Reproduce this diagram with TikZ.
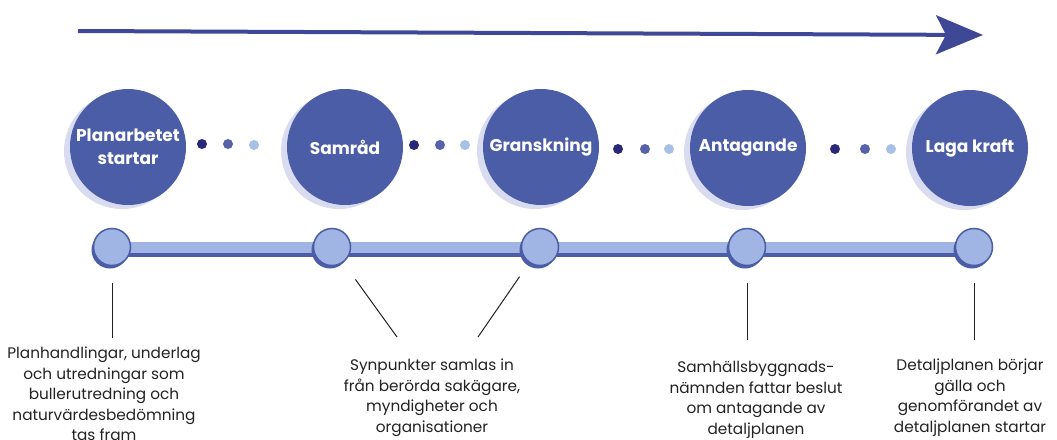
\documentclass[tikz,border=0pt]{standalone}
\usepackage{fontspec}
\setmainfont{Poppins}
\usetikzlibrary{arrows.meta,shadows,backgrounds}
\definecolor{stagefill}{HTML}{4A5DA6}
\definecolor{halo}{HTML}{D9DCF0}
\definecolor{barlight}{HTML}{A0B5E3}
\definecolor{arrowblue}{HTML}{3E4896}
\definecolor{dotdark}{HTML}{2A2878}
\definecolor{dotmid}{HTML}{5762AB}
\definecolor{dotlight}{HTML}{A7C0E6}
\definecolor{notegray}{HTML}{222222}
\begin{document}
\begin{tikzpicture}[x=1pt,y=-1pt,
    stage/.style={circle,fill=stagefill,minimum size=116pt,inner sep=0pt,
      text=white,align=center,font=\fontsize{17}{23}\selectfont\bfseries,
      drop shadow={shadow xshift=-6pt,shadow yshift=-4pt,fill=halo,opacity=1}},
    dot/.style={circle,minimum size=10pt,inner sep=0pt},
    milestone/.style={circle,fill=barlight,draw=stagefill,line width=1.5pt,
      minimum size=37pt,inner sep=0pt,
      drop shadow={shadow xshift=-2pt,shadow yshift=-3pt,fill=stagefill,opacity=1}},
    note/.style={anchor=north,inner sep=0pt,align=center,text=notegray,
      font=\fontsize{15.3}{20.5}\selectfont},
    lead/.style={draw=notegray,line width=1pt},
    flow/.style={draw=arrowblue,line width=4pt,
      -{Stealth[length=47pt,width=39pt,inset=10pt]}}]
  \useasboundingbox (0,0) rectangle (1057,439);
  % direction of the process
  \coordinate (start) at (78,31);
  \coordinate (end) at (983,35);
  \draw[flow] (start) -- (end);
  % stages
  \draw
    (128,147) node[stage] (p1) {Planarbetet\\startar}
    (345,147) node[stage] (p2) {Samråd}
    (541,147) node[stage] (p3) {Granskning}
    (748,148) node[stage] (p4) {Antagande}
    (970,148) node[stage] (p5) {Laga kraft};
  \draw
    (202,144) node[dot,fill=dotdark] (d11) {}
    (228,144) node[dot,fill=dotmid] (d12) {}
    (254,145) node[dot,fill=dotlight] (d13) {}
    (414,145) node[dot,fill=dotdark] (d21) {}
    (440,145) node[dot,fill=dotmid] (d22) {}
    (465,145) node[dot,fill=dotlight] (d23) {}
    (618,149) node[dot,fill=dotdark] (d31) {}
    (645,149) node[dot,fill=dotmid] (d32) {}
    (669,149) node[dot,fill=dotlight] (d33) {}
    (835,149) node[dot,fill=dotdark] (d41) {}
    (865,149) node[dot,fill=dotmid] (d42) {}
    (891,149) node[dot,fill=dotlight] (d43) {};
  % timeline
  \draw
    (112,247) node[milestone] (t1) {}
    (332,247) node[milestone] (t2) {}
    (540,247) node[milestone] (t3) {}
    (747,247) node[milestone] (t4) {}
    (974,247) node[milestone] (t5) {};
  \begin{scope}[on background layer]
    \draw[stagefill,line width=12pt] ([yshift=-4pt]t1.center) -- ([yshift=-4pt]t5.center);
    \draw[barlight,line width=11pt] (t1.center) -- (t5.center);
  \end{scope}
  % notes
  \draw
    (104,347) node[note] (l1) {Planhandlingar, underlag\\och utredningar som\\bullerutredning och\\naturvärdesbedömning\\tas fram}
    (432,359) node[note] (l2) {Synpunkter samlas in\\från berörda sakägare,\\myndigheter och\\organisationer}
    (756,361) node[note] (l3) {Samhällsbyggnads-\\nämnden fattar beslut\\om antagande av\\detaljplanen}
    (970,359) node[note] (l4) {Detaljplanen börjar\\gälla och\\genomförandet av\\detaljplanen startar};
  \coordinate (b2) at (397,337);
  \coordinate (b3) at (478,337);
  \begin{scope}[lead]
    \draw[shorten <=17pt,shorten >=9pt] (t1.south) -- (t1.south |- l1.north);
    \draw[shorten <=40pt] (t2.center) -- (b2);
    \draw[shorten <=36pt] (t3.center) -- (b3);
    \draw[shorten <=17pt,shorten >=21pt] (t4.south) -- (t4.south |- l3.north);
    \draw[shorten <=17pt,shorten >=19pt] (t5.south) -- (t5.south |- l4.north);
  \end{scope}
\end{tikzpicture}
\end{document}
